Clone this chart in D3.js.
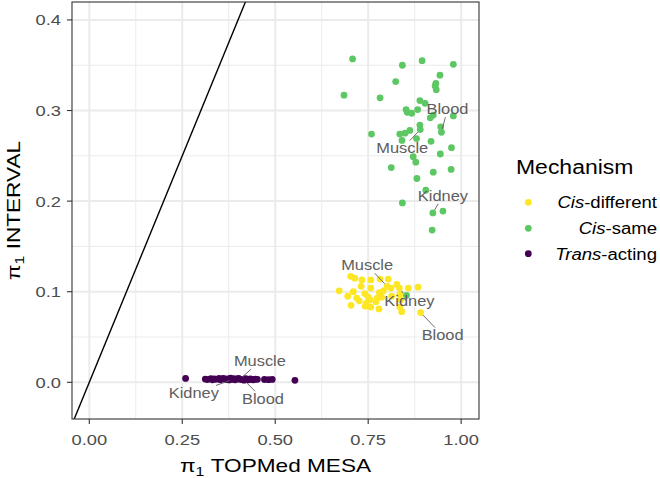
<!DOCTYPE html>
<html lang="en">
<head>
<meta charset="UTF-8">
<title>pi1 TOPMed MESA vs INTERVAL</title>
<style>
  body { margin: 0; background: #fff; }
  svg { display: block; font-family: "Liberation Sans", Arial, sans-serif; }
</style>
</head>
<body>
<svg id="chart" width="660" height="478"></svg>
<script src="https://cdnjs.cloudflare.com/ajax/libs/d3/7.8.5/d3.min.js"></script>
<script>
// ---- data ----
var mechanisms = ["Cis-different", "Cis-same", "Trans-acting"];
var colors = ["#FDE725", "#5DC863", "#440154"];

var cisDiffX = [0.703, 0.714, 0.733, 0.757, 0.782, 0.804, 0.827, 0.731, 0.757, 0.801, 0.811, 0.834, 0.858,
                0.884, 0.672, 0.710, 0.741, 0.780, 0.791, 0.695, 0.719, 0.750, 0.774, 0.786, 0.813, 0.835,
                0.838, 0.726, 0.755, 0.771, 0.704, 0.745, 0.757, 0.779, 0.835, 0.840, 0.891, 0.742];
var cisDiffY = [0.117, 0.115, 0.113, 0.113, 0.114, 0.114, 0.108, 0.106, 0.104, 0.106, 0.104, 0.104, 0.104,
                0.105, 0.101, 0.100, 0.098, 0.099, 0.101, 0.095, 0.093, 0.094, 0.093, 0.094, 0.095, 0.097,
                0.091, 0.090, 0.091, 0.089, 0.085, 0.087, 0.083, 0.081, 0.083, 0.078, 0.077, 0.084];

var cisSameX = [0.708, 0.842, 0.895, 0.979, 0.943, 0.824, 0.932, 0.930, 0.933, 0.685, 0.782, 0.889, 0.903,
                0.852, 0.855, 0.867, 0.883, 0.917, 0.925, 0.979, 0.945, 0.947, 0.889, 0.890, 0.862, 0.849,
                0.835, 0.759, 0.841, 0.880, 0.919, 0.974, 0.944, 0.871, 0.878, 0.812, 0.925, 0.973, 0.881,
                0.905, 0.842, 0.924, 0.951, 0.922, 0.853];
var cisSameY = [0.357, 0.350, 0.355, 0.351, 0.339, 0.332, 0.330, 0.327, 0.323, 0.317, 0.314, 0.311, 0.308,
                0.301, 0.298, 0.297, 0.301, 0.292, 0.295, 0.294, 0.282, 0.276, 0.284, 0.279, 0.278, 0.275,
                0.274, 0.274, 0.267, 0.269, 0.266, 0.259, 0.252, 0.249, 0.243, 0.237, 0.232, 0.235, 0.225,
                0.212, 0.198, 0.187, 0.189, 0.168, 0.096];

var transX = [0.259, 0.312, 0.318, 0.327, 0.331, 0.336, 0.340, 0.349, 0.352, 0.358, 0.361, 0.367, 0.372,
              0.376, 0.380, 0.386, 0.389, 0.392, 0.396, 0.401, 0.405, 0.411, 0.416, 0.420, 0.424, 0.428,
              0.433, 0.437, 0.441, 0.447, 0.452, 0.471, 0.482, 0.492, 0.553];
var transY = [0.0043, 0.0036, 0.0030, 0.0041, 0.0027, 0.0038, 0.0033, 0.0044, 0.0029, 0.0037, 0.0042, 0.0031,
              0.0039, 0.0026, 0.0045, 0.0032, 0.0040, 0.0028, 0.0036, 0.0043, 0.0034, 0.0030, 0.0024, 0.0041,
              0.0035, 0.0028, 0.0038, 0.0031, 0.0027, 0.0036, 0.0033, 0.0031, 0.0029, 0.0032, 0.0022];

// labelled tissues: which point of which group
var labelMech   = [1, 1, 1, 0, 0, 0, 2, 2, 2];
var labelTissue = ["Blood", "Muscle", "Kidney", "Muscle", "Kidney", "Blood", "Muscle", "Kidney", "Blood"];
var labelX      = [0.947, 0.890, 0.924, 0.801, 0.834, 0.891, 0.405, 0.386, 0.416];
var labelY      = [0.276, 0.279, 0.187, 0.106, 0.104, 0.077, 0.0034, 0.0032, 0.0024];
// text offsets in px from the labelled point (repel result)
var labelNudge  = [[6, -23], [-18, 19], [10, -17], [-20, -21], [10, 13], [22, 23], [20, -18], [-39, 14], [19, 19]];

var xTicks = [0, 0.25, 0.5, 0.75, 1];
var yTicks = [0, 0.1, 0.2, 0.3, 0.4];
var xMinor = [0.125, 0.375, 0.625, 0.875];
var yMinor = [0.05, 0.15, 0.25, 0.35];

// ---- layout ----
var svg = d3.select("#chart");
var panel = {left: 72, right: 479, top: 2, bottom: 419};
var SX = 1.19;   // the reference glyphs run wider than Liberation Sans

var x = d3.scaleLinear().domain([-0.0465, 1.048]).range([panel.left, panel.right]);
var y = d3.scaleLinear().domain([-0.0405, 0.4198]).range([panel.bottom, panel.top]);

function addText(parent, px, py, str, size, opts) {
    opts = opts || {};
    var t = parent.append("text")
        .attr("transform", "translate(" + px + "," + py + ")" + (opts.rotate ? " rotate(" + opts.rotate + ")" : "") + " scale(" + SX + ",1)")
        .attr("font-size", size)
        .attr("fill", opts.fill || "#000")
        .attr("text-anchor", opts.anchor || "start");
    if (str !== null) t.text(str);
    return t;
}

// panel background + grid
svg.append("rect").attr("x", panel.left).attr("y", panel.top)
    .attr("width", panel.right - panel.left).attr("height", panel.bottom - panel.top).attr("fill", "#fff");

var grid = svg.append("g");
grid.selectAll(".xminor").data(xMinor).enter().append("line")
    .attr("x1", d => x(d)).attr("x2", d => x(d)).attr("y1", panel.top).attr("y2", panel.bottom)
    .attr("stroke", "#EBEBEB").attr("stroke-width", 1);
grid.selectAll(".yminor").data(yMinor).enter().append("line")
    .attr("y1", d => y(d)).attr("y2", d => y(d)).attr("x1", panel.left).attr("x2", panel.right)
    .attr("stroke", "#EBEBEB").attr("stroke-width", 1);
grid.selectAll(".xmajor").data(xTicks).enter().append("line")
    .attr("x1", d => x(d)).attr("x2", d => x(d)).attr("y1", panel.top).attr("y2", panel.bottom)
    .attr("stroke", "#EBEBEB").attr("stroke-width", 2);
grid.selectAll(".ymajor").data(yTicks).enter().append("line")
    .attr("y1", d => y(d)).attr("y2", d => y(d)).attr("x1", panel.left).attr("x2", panel.right)
    .attr("stroke", "#EBEBEB").attr("stroke-width", 2);

// y = x reference line, clipped to the panel
svg.append("clipPath").attr("id", "clip").append("rect")
    .attr("x", panel.left).attr("y", panel.top)
    .attr("width", panel.right - panel.left).attr("height", panel.bottom - panel.top);
svg.append("line").attr("clip-path", "url(#clip)")
    .attr("x1", x(-0.1)).attr("y1", y(-0.1)).attr("x2", x(0.5)).attr("y2", y(0.5))
    .attr("stroke", "#000").attr("stroke-width", 1.4);

// points
var groups = [
    {i: 0, xs: cisDiffX, ys: cisDiffY},
    {i: 1, xs: cisSameX, ys: cisSameY},
    {i: 2, xs: transX, ys: transY}
];
var pts = svg.append("g");
groups.forEach(function(g) {
    pts.selectAll(null).data(g.xs.map((v, k) => [v, g.ys[k]])).enter().append("circle")
        .attr("cx", d => x(d[0])).attr("cy", d => y(d[1])).attr("r", 3.4)
        .attr("fill", colors[g.i]);
});

// repel-style labels
var labG = svg.append("g");
var labSize = 13.8;
labelTissue.forEach(function(name, k) {
    var px = x(labelX[k]), py = y(labelY[k]);
    var cx = px + labelNudge[k][0], cy = py + labelNudge[k][1];
    var t = addText(labG, cx, cy + labSize * 0.716 / 2, name, labSize, {anchor: "middle", fill: "#5E5E5E"});
    var hw = t.node().getComputedTextLength() * SX / 2 + 2;
    var hh = labSize * 0.716 / 2 + 3;
    var dx = px - cx, dy = py - cy;
    var tt = Math.min(hw / Math.abs(dx || 1e-6), hh / Math.abs(dy || 1e-6));
    var ex = cx + dx * tt, ey = cy + dy * tt;
    var len = Math.hypot(dx, dy);
    var sx0 = px - dx / len * 3.5, sy0 = py - dy / len * 3.5;
    if (Math.hypot(ex - sx0, ey - sy0) > 2) {
        labG.append("line").attr("x1", sx0).attr("y1", sy0).attr("x2", ex).attr("y2", ey)
            .attr("stroke", "#5E5E5E").attr("stroke-width", 0.9);
    }
});

// panel border
svg.append("rect").attr("x", panel.left).attr("y", panel.top)
    .attr("width", panel.right - panel.left).attr("height", panel.bottom - panel.top)
    .attr("fill", "none").attr("stroke", "#333333").attr("stroke-width", 1.1);

// axes
var axG = svg.append("g");
xTicks.forEach(function(v) {
    axG.append("line").attr("x1", x(v)).attr("x2", x(v)).attr("y1", panel.bottom).attr("y2", panel.bottom + 5)
        .attr("stroke", "#333333").attr("stroke-width", 1.1);
    addText(axG, x(v), 445, d3.format(".2f")(v), 15.4, {anchor: "middle", fill: "#4D4D4D"});
});
yTicks.forEach(function(v) {
    axG.append("line").attr("x1", panel.left - 5).attr("x2", panel.left).attr("y1", y(v)).attr("y2", y(v))
        .attr("stroke", "#333333").attr("stroke-width", 1.1);
    addText(axG, 61, y(v) + 5.5, d3.format(".1f")(v), 15.4, {anchor: "end", fill: "#4D4D4D"});
});

function piTitle(t, rest) {
    t.append("tspan").text("\u03c0");
    t.append("tspan").attr("font-size", "70%").attr("dy", 4).text("1");
    t.append("tspan").attr("dy", -4).text(" " + rest);
}
piTitle(addText(svg, (panel.left + panel.right) / 2, 472.3, null, 19, {anchor: "middle"}), "TOPMed MESA");
piTitle(addText(svg, 19.5, (panel.top + panel.bottom) / 2, null, 19, {anchor: "middle", rotate: -90}), "INTERVAL");

// legend
var leg = svg.append("g");
addText(leg, 516, 174.3, "Mechanism", 19.3);
var legItems = [["Cis", "-different"], ["Cis", "-same"], ["Trans", "-acting"]];
var legY = [202.3, 228.3, 253.7];
mechanisms.forEach(function(m, k) {
    leg.append("circle").attr("cx", 528.3).attr("cy", legY[k]).attr("r", 3.4).attr("fill", colors[k]);
    var t = addText(leg, 657, legY[k] + 5.8, null, 15.6, {anchor: "end"});
    t.append("tspan").attr("font-style", "italic").text(legItems[k][0]);
    t.append("tspan").text(legItems[k][1]);
});
</script>
</body>
</html>
